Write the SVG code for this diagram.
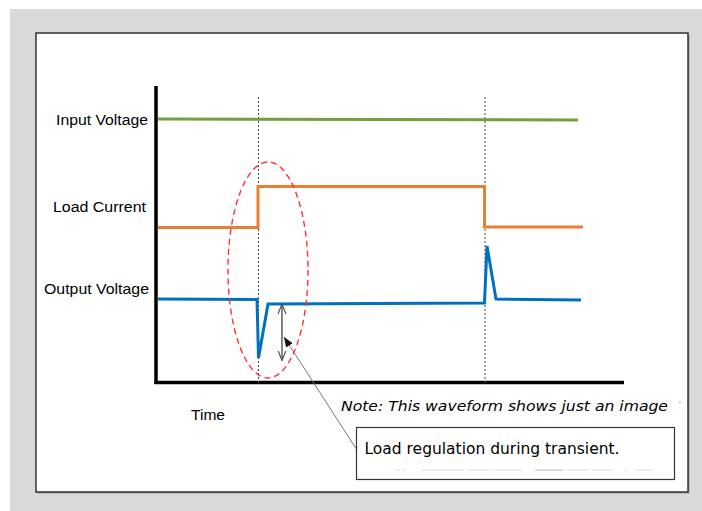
<svg xmlns="http://www.w3.org/2000/svg" width="702" height="511" viewBox="0 0 702 511">
  <defs>
    <style>
      .lbl { font-family: "Liberation Sans", Arial, sans-serif; font-size: 15.5px; fill: #000; }
      .note { font-family: "DejaVu Sans", Verdana, sans-serif; font-size: 14px; font-style: italic; fill: #000; }
      .box-text { font-family: "DejaVu Sans", Verdana, sans-serif; font-size: 15.5px; fill: #000; }
      .axis { stroke: #000; stroke-width: 3.5; fill: none; }
      .guide { stroke: #444; stroke-width: 1; stroke-dasharray: 2 2; fill: none; }
      .wave { fill: none; stroke-width: 3; stroke-linejoin: miter; }
    </style>
    <marker id="open" viewBox="0 0 10 10" refX="10" refY="5" markerWidth="10" markerHeight="10" markerUnits="userSpaceOnUse" orient="auto-start-reverse">
      <polyline points="0,1 10,5 0,9" fill="none" stroke="#555" stroke-width="1.2"/>
    </marker>
    <marker id="solid" viewBox="0 0 10 10" refX="10" refY="5" markerWidth="10" markerHeight="10" markerUnits="userSpaceOnUse" orient="auto">
      <polygon points="0,1 10,5 0,9" fill="#111"/>
    </marker>
  </defs>

  <!-- background -->
  <rect x="10" y="9" width="692" height="502" fill="#d9d9d9"/>
  <rect x="37.5" y="34.5" width="652" height="459" fill="#9a9a9a"/>
  <rect x="36" y="33" width="652" height="459" fill="#fff" stroke="#333" stroke-width="1.5"/>

  <!-- axes -->
  <g id="axes">
    <line class="axis" x1="156" y1="86" x2="156" y2="384"/>
    <line class="axis" x1="154.5" y1="382.5" x2="624" y2="382.5"/>
  </g>

  <!-- guides -->
  <g id="guides">
    <line class="guide" x1="258.5" y1="97" x2="258.5" y2="384"/>
    <line class="guide" x1="485" y1="97" x2="485" y2="384"/>
  </g>

  <!-- waveforms -->
  <g id="input-voltage">
    <polyline class="wave" stroke="#70a040" stroke-width="2.5" points="158,119 578,120"/>
    <text class="lbl" x="148" y="125" text-anchor="end" textLength="92" lengthAdjust="spacingAndGlyphs">Input Voltage</text>
  </g>
  <g id="load-current">
    <polyline class="wave" stroke="#ed7d31" points="158,227.5 258,227.5 258,186.5 484.5,186.5 484.5,227 583,227"/>
    <text class="lbl" x="146" y="212" text-anchor="end" textLength="93" lengthAdjust="spacingAndGlyphs">Load Current</text>
  </g>
  <g id="output-voltage">
    <polyline class="wave" stroke="#0070c0" points="158,299 257,299.5 258.5,358 268,304 484.5,303 487,246 496,299 581,300"/>
    <text class="lbl" x="149" y="294" text-anchor="end" textLength="105" lengthAdjust="spacingAndGlyphs">Output Voltage</text>
  </g>
  <g id="time-label">
    <text class="lbl" x="191" y="420" textLength="34" lengthAdjust="spacingAndGlyphs">Time</text>
  </g>

  <!-- highlight ellipse -->
  <g id="highlight">
    <ellipse cx="268" cy="270" rx="40" ry="108" fill="none" stroke="#ff3333" stroke-width="1.4" stroke-dasharray="6 4"/>
  </g>

  <!-- connectors -->
  <g id="connectors">
    <line x1="282" y1="304" x2="282" y2="360.5" stroke="#333" stroke-width="1.2" marker-start="url(#open)" marker-end="url(#open)"/>
    <line x1="357" y1="450" x2="284" y2="337" stroke="#777" stroke-width="1" marker-end="url(#solid)"/>
  </g>

  <!-- note -->
  <g id="note">
    <text class="note" x="341" y="410.5" textLength="327" lengthAdjust="spacingAndGlyphs">Note: This waveform shows just an image</text>
    <rect x="679" y="401.5" width="2" height="1.2" fill="#aaa"/>
  </g>

  <!-- callout box -->
  <g id="callout">
    <rect x="356.5" y="427.5" width="318" height="52" fill="#fff" stroke="#333" stroke-width="1.2"/>
    <text class="box-text" x="364.5" y="454" textLength="255" lengthAdjust="spacingAndGlyphs">Load regulation during transient.</text>
    <g fill="#e2e2e2">
      <rect x="395" y="469.5" width="5" height="1.2"/>
      <rect x="403" y="469.5" width="3" height="1.2"/>
      <rect x="421" y="469.5" width="18" height="1.2"/>
      <rect x="441" y="469.5" width="22" height="1.2"/>
      <rect x="467" y="469.5" width="22" height="1.2"/>
      <rect x="492" y="469.5" width="30" height="1.2"/>
      <rect x="535" y="469.5" width="28" height="1.2" fill="#c4c4c4"/>
      <rect x="566" y="469.5" width="24" height="1.2"/>
      <rect x="593" y="469.5" width="20" height="1.2"/>
      <rect x="625" y="469.5" width="3" height="1.2"/>
      <rect x="636" y="469.5" width="16" height="1.2"/>
    </g>
  </g>
</svg>
